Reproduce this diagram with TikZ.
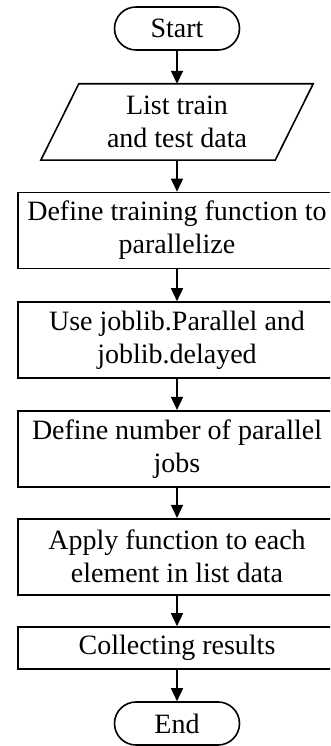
\documentclass[tikz,border=0pt]{standalone}
\usepackage{fontspec}
\setmainfont{Liberation Serif}
\usetikzlibrary{arrows.meta}
\begin{document}
\begin{tikzpicture}[x=1pt,y=1pt,
  every node/.style={font=\fontsize{28}{33}\selectfont, align=center, inner sep=0pt, text=black},
  procbox/.style={draw, line width=1.6pt, minimum width=318pt, minimum height=76pt},
  termbox/.style={draw, line width=1.6pt, rounded corners=21.5pt, minimum width=125pt, minimum height=43pt},
  flow/.style={line width=1.6pt, -{Triangle[length=13pt,width=12pt]}}]
\useasboundingbox (0,0) rectangle (330,746);
\clip (0,0) rectangle (330,746);
\node[termbox] (start) at (177,717.5) {Start};
\node[minimum width=234pt, minimum height=76pt] (para) at (177,624) {List train\\and test data};
\draw[line width=1.6pt] ([xshift=19pt]para.north west) -- ([xshift=19pt]para.north east)
  -- ([xshift=-19pt]para.south east) -- ([xshift=-19pt]para.south west) -- cycle;
\node[procbox] (b1) at (177,515.5) {Define training function to\\parallelize};
\node[procbox] (b2) at (177,406) {Use joblib.Parallel and\\joblib.delayed};
\node[procbox] (b3) at (177,297.25) {Define number of parallel\\jobs};
\node[procbox] (b4) at (177,189.25) {Apply function to each\\element in list data};
\node[procbox, minimum height=42pt] (b5) at (177,98) {Collecting results};
\node[termbox] (end) at (177,22.5) {End};
\draw[flow] (start) -- (para);
\draw[flow] (para) -- (b1);
\draw[flow] (b1) -- (b2);
\draw[flow] (b2) -- (b3);
\draw[flow] (b3) -- (b4);
\draw[flow] (b4) -- (b5);
\draw[flow] (b5) -- (end);
\end{tikzpicture}
\end{document}
